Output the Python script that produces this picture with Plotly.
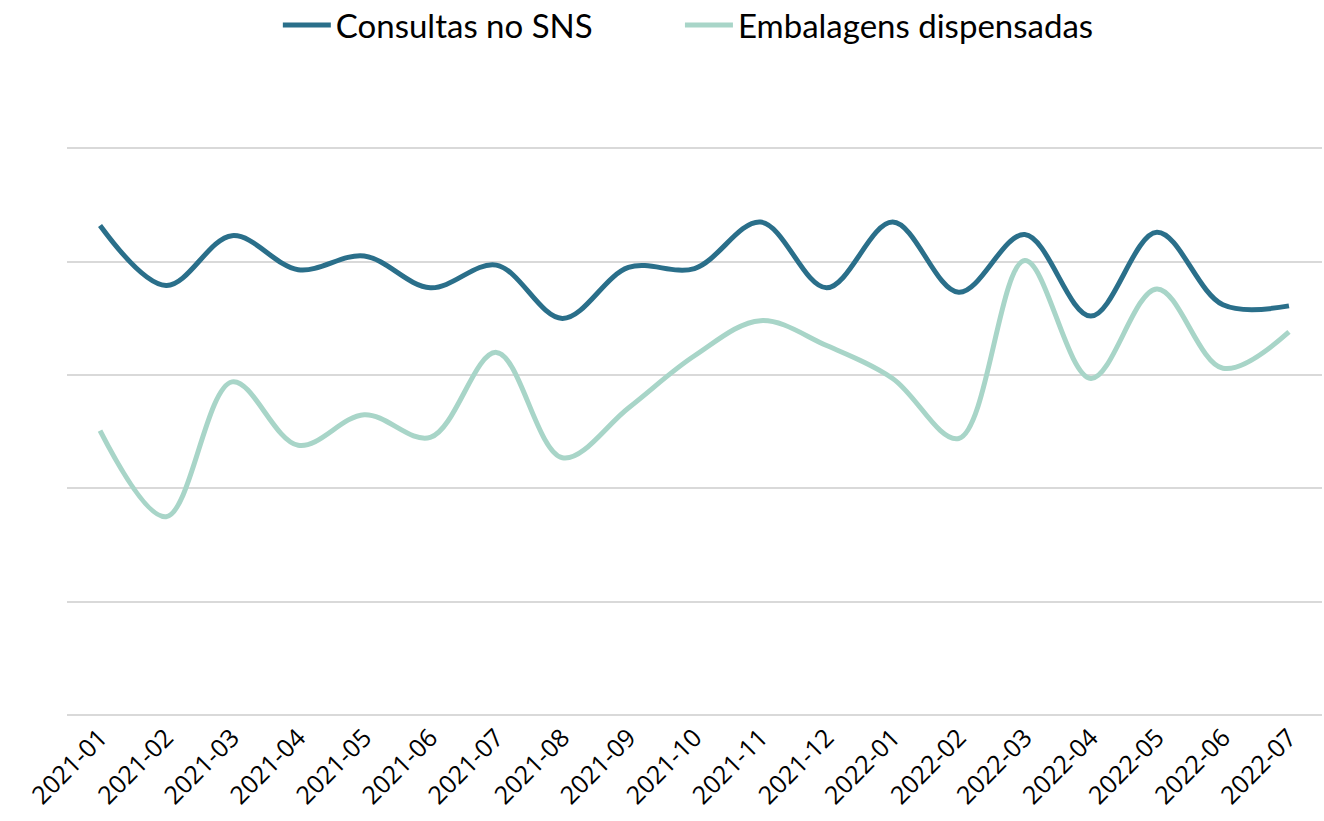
import plotly.graph_objects as go

months = ["2021-01", "2021-02", "2021-03", "2021-04", "2021-05", "2021-06", "2021-07",
          "2021-08", "2021-09", "2021-10", "2021-11", "2021-12", "2022-01", "2022-02",
          "2022-03", "2022-04", "2022-05", "2022-06", "2022-07"]
consultas = [4.32, 3.79, 4.23, 3.93, 4.05, 3.77, 3.97, 3.50, 3.95, 3.94,
             4.35, 3.77, 4.35, 3.73, 4.24, 3.52, 4.26, 3.62, 3.61]
embalagens = [2.51, 1.75, 2.94, 2.38, 2.65, 2.45, 3.20, 2.27, 2.71, 3.17,
              3.48, 3.26, 2.97, 2.44, 4.01, 2.97, 3.76, 3.06, 3.38]

fig = go.Figure()
fig.add_trace(go.Scatter(x=months, y=consultas, name="Consultas no SNS", mode="lines",
                         legend="legend",
                         line=dict(color="#2a6f8a", width=5, shape="spline", smoothing=1.0)))
fig.add_trace(go.Scatter(x=months, y=embalagens, name="Embalagens dispensadas", mode="lines",
                         legend="legend2",
                         line=dict(color="#a8d5c8", width=5, shape="spline", smoothing=1.0)))

legend_common = dict(orientation="h", xanchor="left", y=0.9695, yref="container",
                     yanchor="middle", font=dict(size=33, family="Lato"),
                     itemwidth=48, bgcolor="rgba(0,0,0,0)")

fig.update_layout(
    width=1324, height=821,
    paper_bgcolor="white", plot_bgcolor="white",
    margin=dict(l=67, r=2, t=145, b=106, autoexpand=False),
    font=dict(family="Open Sans", color="#000000"),
    showlegend=True,
    legend=dict(x=0.168, **legend_common),
    legend2=dict(x=0.4884, **legend_common),
    xaxis=dict(type="category", tickangle=-45, tickfont=dict(size=25),
               showgrid=False, showline=False, ticks="", range=[-0.5, 18.5],
               automargin=False, ticklabelstandoff=2),
    yaxis=dict(range=[0, 5.03], tickvals=[0, 1, 2, 3, 4, 5], showticklabels=False,
               showgrid=True, gridcolor="#d9d9d9", gridwidth=2, zeroline=True,
               zerolinecolor="#d9d9d9", zerolinewidth=2, ticks="", automargin=False),
)

fig.write_html("out.html", config={"displayModeBar": False},
               post_script="document.body.style.margin='0';")
